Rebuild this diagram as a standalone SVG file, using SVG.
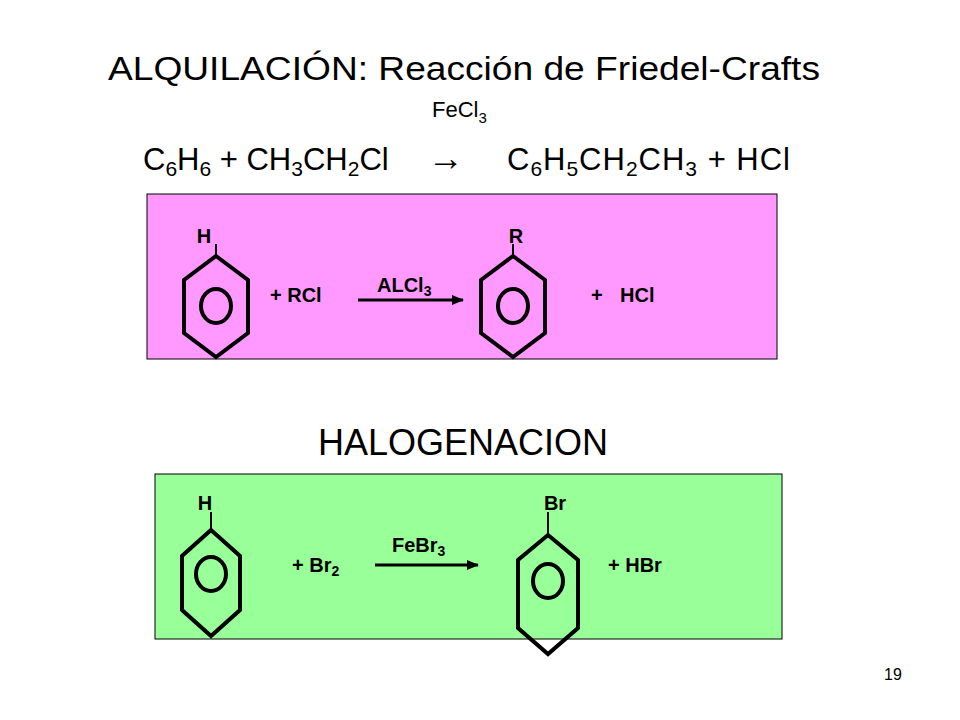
<svg xmlns="http://www.w3.org/2000/svg" width="960" height="720" viewBox="0 0 960 720">
<defs><marker id="ah" markerWidth="12" markerHeight="10" refX="11" refY="5" orient="auto" markerUnits="userSpaceOnUse"><path d="M0,0 L12,5 L0,10 z" fill="#000"/></marker></defs>
<style>
text{font-family:"Liberation Sans",Arial,sans-serif;fill:#000}
.b{font-weight:bold;font-size:20px}
.ring{fill:none;stroke:#000;stroke-width:4}
.big{font-size:31px}
</style>
<rect width="960" height="720" fill="#fff"/>
<text x="108" y="80" font-size="34" textLength="712" lengthAdjust="spacingAndGlyphs">ALQUILACIÓN: Reacción de Friedel-Crafts</text>
<text x="432" y="117" font-size="22">FeCl<tspan font-size="15" dy="6">3</tspan></text>
<text x="143" y="170" class="big">C<tspan font-size="21" dy="6">6</tspan><tspan dy="-6">H</tspan><tspan font-size="21" dy="6">6</tspan><tspan dy="-6">  + CH</tspan><tspan font-size="21" dy="6">3</tspan><tspan dy="-6">CH</tspan><tspan font-size="21" dy="6">2</tspan><tspan dy="-6">Cl</tspan></text>
<text x="428" y="170" font-size="36" font-family="DejaVu Sans">→</text>
<text x="507" y="170" class="big" textLength="283" lengthAdjust="spacing">C<tspan font-size="21" dy="6">6</tspan><tspan dy="-6">H</tspan><tspan font-size="21" dy="6">5</tspan><tspan dy="-6">CH</tspan><tspan font-size="21" dy="6">2</tspan><tspan dy="-6">CH</tspan><tspan font-size="21" dy="6">3</tspan><tspan dy="-6">  + HCl</tspan></text>
<g id="box1">
<rect x="147" y="194" width="630" height="165" fill="#ff99ff" stroke="#000" stroke-width="1"/>
</g>
<g id="benzene1">
<line x1="216" y1="244" x2="216" y2="256" stroke="#000" stroke-width="2"/>
<polygon class="ring" points="216,256 248,280 248,333 216,357 184,333 184,280"/>
<ellipse class="ring" cx="216" cy="306" rx="15" ry="17"/>
<text x="204" y="243" class="b" text-anchor="middle">H</text>
</g>
<text x="270" y="302" class="b">+ RCl</text>
<text x="377" y="292" class="b">ALCl<tspan font-size="14" dy="4">3</tspan></text>
<g id="benzene2">
<line x1="513" y1="244" x2="513" y2="256" stroke="#000" stroke-width="2"/>
<polygon class="ring" points="513,256 545,280 545,333 513,357 481,333 481,280"/>
<ellipse class="ring" cx="513" cy="306" rx="15" ry="17"/>
<text x="516" y="243" class="b" text-anchor="middle">R</text>
</g>
<text x="591" y="302" class="b">+</text>
<text x="620" y="302" class="b">HCl</text>
<text x="318" y="455" font-size="36">HALOGENACION</text>
<g id="box2">
<rect x="155" y="474" width="627" height="165" fill="#99ff99" stroke="#000" stroke-width="1"/>
</g>
<g id="benzene3">
<line x1="211" y1="512" x2="211" y2="530" stroke="#000" stroke-width="2"/>
<polygon class="ring" points="211,530 240,556 240,610 211,636 182,610 182,556"/>
<ellipse class="ring" cx="211" cy="574" rx="15" ry="17"/>
<text x="205" y="510" class="b" text-anchor="middle">H</text>
</g>
<text x="292" y="572" class="b">+ Br<tspan font-size="14" dy="4">2</tspan></text>
<text x="392" y="552" class="b">FeBr<tspan font-size="14" dy="4">3</tspan></text>
<g id="benzene4">
<line x1="548" y1="512" x2="548" y2="535" stroke="#000" stroke-width="2"/>
<polygon class="ring" points="548,535 578,560 578,628 548,654 518,628 518,560"/>
<ellipse class="ring" cx="548" cy="581" rx="15" ry="17"/>
<text x="555" y="510" class="b" text-anchor="middle">Br</text>
</g>
<text x="608" y="572" class="b">+ HBr</text>
<g id="connectors">
<line x1="358" y1="300" x2="463" y2="300" stroke="#000" stroke-width="3" marker-end="url(#ah)"/>
<line x1="375" y1="565" x2="478" y2="565" stroke="#000" stroke-width="3" marker-end="url(#ah)"/>
</g>
<text x="893" y="680" font-size="16" text-anchor="middle">19</text>
</svg>
